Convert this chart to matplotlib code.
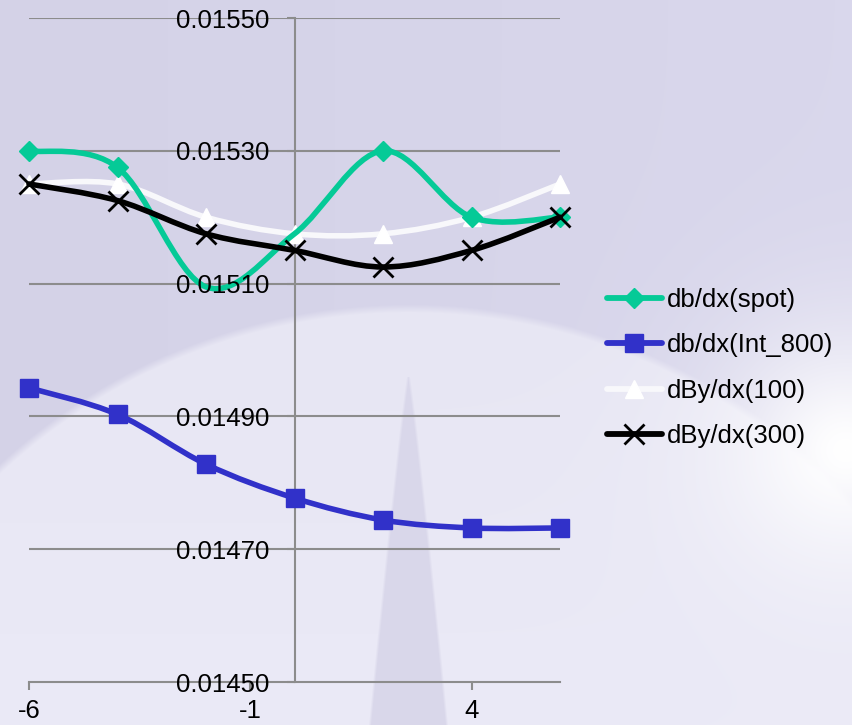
import numpy as np
import matplotlib
matplotlib.use("Agg")
import matplotlib.pyplot as plt
from matplotlib.path import Path
from matplotlib.patches import PathPatch
from matplotlib.lines import Line2D

plt.rcParams['font.family'] = ['Liberation Sans', 'DejaVu Sans']

# x positions and the four derivative series
x = [-6, -4, -2, 0, 2, 4, 6]
spot = [0.01530, 0.015275, 0.015095, 0.015175, 0.01530, 0.01520, 0.01520]
int_800 = [0.014943, 0.014903, 0.014828, 0.014777, 0.014744, 0.014732, 0.014732]
by_100 = [0.01525, 0.01525, 0.01520, 0.015175, 0.015175, 0.01520, 0.01525]
by_300 = [0.01525, 0.015225, 0.015175, 0.01515, 0.015125, 0.01515, 0.01520]

labels = ['db/dx(spot)', 'db/dx(Int_800)', 'dBy/dx(100)', 'dBy/dx(300)']
x_ticks = [-6, -1, 4]
y_ticks = [0.01450, 0.01470, 0.01490, 0.01510, 0.01530, 0.01550]

W, H = 852, 725
DPI = 100
FS = 18.5


def smooth_path(xs, ys):
    # Catmull-Rom style bezier segments, like a spreadsheet "smoothed line"
    pts = np.column_stack([xs, ys]).astype(float)
    n = len(pts)
    verts = [pts[0]]
    codes = [Path.MOVETO]
    for i in range(n - 1):
        p0 = pts[i - 1] if i > 0 else pts[i]
        p1, p2 = pts[i], pts[i + 1]
        p3 = pts[i + 2] if i + 2 < n else pts[i + 1]
        verts += [p1 + (p2 - p0) / 6, p2 - (p3 - p1) / 6, p2]
        codes += [Path.CURVE4] * 3
    return Path(verts, codes)


def background():
    yy, xx = np.mgrid[0:H, 0:W].astype(float)
    top = np.array([212, 210, 231]) / 255
    light = np.array([231, 230, 243]) / 255
    img = np.ones((H, W, 3)) * top
    # slight brightening to the right
    img = img + (xx / W)[..., None] * 0.02
    # big pale disc
    d = np.hypot(xx - 408, yy - 908)
    m = np.clip((600 - d) / 8 + 0.5, 0, 1)
    inner = light + ((yy - 300) / 425).clip(0, 1)[..., None] * 0.015
    img = img * (1 - m[..., None]) + inner * m[..., None]
    # spike
    t = ((yy - 377) / (H - 377)).clip(0, 1)
    half = 2 + 38 * t ** 0.9
    s = np.clip((half - np.abs(xx - 408)) / 3, 0, 1) * (yy >= 377)
    spike = np.array([217, 215, 234]) / 255
    img = img * (1 - s[..., None]) + spike * s[..., None]
    # glow near the right edge
    g = np.exp(-(((xx - 845) / 120) ** 2 + ((yy - 450) / 115) ** 2) ** 0.8)
    img = img * (1 - g[..., None]) + g[..., None]
    return np.clip(img, 0, 1)


fig = plt.figure(figsize=(W / DPI, H / DPI), dpi=DPI)
bg = fig.add_axes([0, 0, 1, 1], zorder=-1)
bg.imshow(background(), aspect='auto', interpolation='bilinear')
bg.set_axis_off()

ax = fig.add_axes([29 / W, (H - 682) / H, (560 - 29) / W, (682 - 18) / H])
ax.set_facecolor('none')
ax.set_xlim(-6, 6)
ax.set_ylim(0.0145, 0.0155)

grid_c = '#8c8c8c'
for yv in y_ticks[1:]:
    ax.axhline(yv, color=grid_c, lw=1.5, zorder=1)

for side in ['top', 'right']:
    ax.spines[side].set_visible(False)
ax.spines['left'].set_position(('data', 0))
for side in ['left', 'bottom']:
    ax.spines[side].set_color(grid_c)
    ax.spines[side].set_linewidth(1.5)
    ax.spines[side].set_zorder(1)

ax.set_xticks(x_ticks)
ax.set_xticklabels([str(v) for v in x_ticks])
ax.set_yticks(y_ticks)
ax.set_yticklabels([f'{v:.5f}' for v in y_ticks])
ax.tick_params(axis='x', direction='out', length=6, width=1.5, color=grid_c,
               labelsize=FS, pad=6)
ax.tick_params(axis='y', direction='out', length=6, width=1.5, color=grid_c,
               labelsize=FS, pad=12)
ax.xaxis.set_zorder(6)
ax.yaxis.set_zorder(6)

series = [
    (spot, '#05ca97', 'D', 10, '#05ca97', 1, [0, 1, 4, 5, 6]),
    (int_800, '#3131c9', 's', 13.5, '#3131c9', 1, None),
    (by_100, '#f8f8fb', '^', 13, '#ffffff', 1, None),
    (by_300, '#000000', 'x', 14, '#000000', 2, None),
]
zs = [3.2, 3.0, 3.1, 3.3]
handles = []
for (ys, col, mk, ms, mcol, mew, every), z in zip(series, zs):
    ax.add_patch(PathPatch(smooth_path(x, ys), fill=False, edgecolor=col,
                           lw=4.0, capstyle='round', joinstyle='round',
                           zorder=z, clip_on=False))
    ax.plot(x, ys, ls='none', marker=mk, ms=ms, color=mcol, mec=mcol,
            mew=mew, markevery=every, zorder=z + 0.05, clip_on=False)
    handles.append(Line2D([], [], color=col, lw=4.2, marker=mk, ms=ms,
                          mfc=mcol, mec=mcol, mew=mew,
                          solid_capstyle='round'))

fig.legend(handles, labels, loc='upper left',
           bbox_to_anchor=(607 / W, 1 - 288 / H), frameon=False,
           fontsize=FS, borderpad=0, borderaxespad=0, markerscale=1.0,
           handlelength=55 / 25.7, handletextpad=0.2, labelspacing=0.83,
           numpoints=1)

fig.savefig('out.png', dpi=DPI)
